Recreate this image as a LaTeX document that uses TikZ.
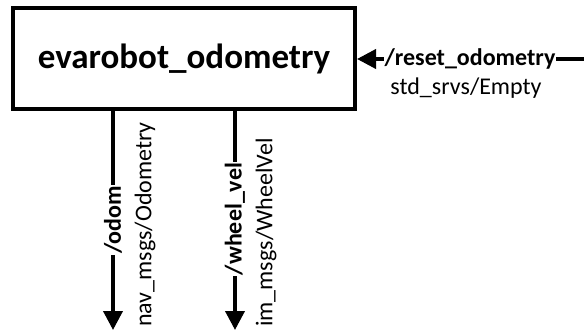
\documentclass[tikz,border=0pt]{standalone}
\usepackage{fontspec}
\setmainfont{Carlito}
\usetikzlibrary{arrows.meta}
\begin{document}
\begin{tikzpicture}[x=1pt,y=-1pt,
  conn/.style={line width=3.8pt,-{Triangle[width=19pt,length=19pt]}},
  topic/.style={font=\bfseries\fontsize{24}{24}\selectfont, fill=white, inner sep=1pt},
  msg/.style={font=\fontsize{24}{24}\selectfont, inner sep=1pt},
  nodebox/.style={draw, line width=4pt, minimum width=342pt, minimum height=101pt, font=\bfseries\fontsize{35}{35}\selectfont}
]
\useasboundingbox[fill=white] (0,0) rectangle (584,334);
\node[nodebox] (box) at (184,58.5) {evarobot\_odometry};
\coordinate (odomend) at (113,330);
\coordinate (wheelend) at (235,330);
\coordinate (resetstart) at (584,59);
\draw[conn] (box.south -| odomend) -- (odomend);
\draw[conn] (box.south -| wheelend) -- (wheelend);
\draw[conn] (resetstart) -- (box.east |- resetstart);
\node[topic, rotate=90] (odom) at (113,220) {/odom};
\node[topic, rotate=90] (wheel) at (235,219) {/wheel\_vel};
\node[topic] (reset) at (470,59) {/reset\_odometry};
\node[msg] (resetmsg) at (466,88) {std\_srvs/Empty};
\node[msg, rotate=90, anchor=west] (odommsg) at (145,328) {nav\_msgs/Odometry};
\node[msg, rotate=90, anchor=west] (wheelmsg) at (266,328) {im\_msgs/WheelVel};
\end{tikzpicture}
\end{document}
